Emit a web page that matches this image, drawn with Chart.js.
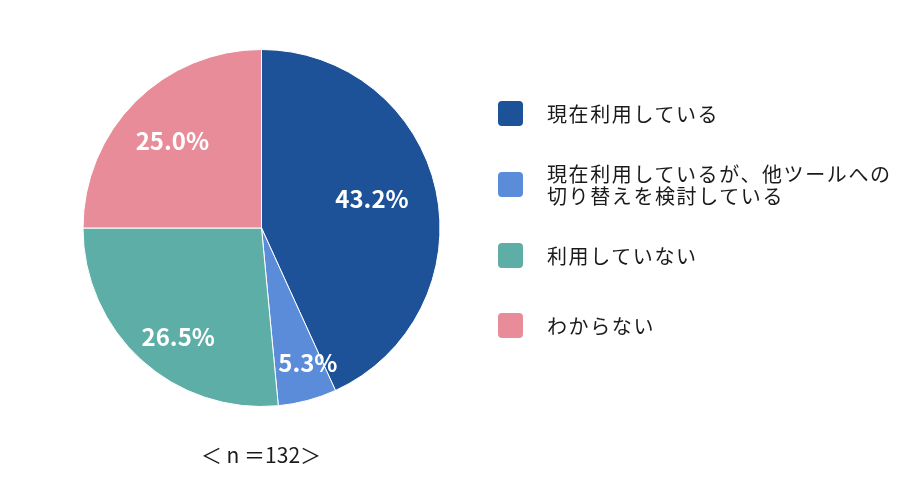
<!DOCTYPE html>
<html lang="ja">
<head>
<meta charset="utf-8">
<script src="https://cdn.jsdelivr.net/npm/chart.js@4.4.1/dist/chart.umd.min.js"></script>
<style>
    html, body { margin: 0; padding: 0; background: #fff; }
    body { width: 900px; height: 503px; position: relative; overflow: hidden;
        font-family: "Noto Sans CJK JP", "Noto Sans", sans-serif; color: #1a1a1a; }
    #wrap { position: absolute; left: 0; top: 0; width: 523px; height: 503px; }
    #legend { position: absolute; left: 498px; top: 0; margin: 0; padding: 0; list-style: none; }
    #legend li { position: absolute; left: 0; width: 400px; }
    #legend .box { position: absolute; left: 0; width: 25px; height: 25px; border-radius: 4px; }
    #legend .txt { position: absolute; left: 49px; font-size: 20px; line-height: 22px;
        letter-spacing: 1.6px; white-space: nowrap; }
    #count { position: absolute; left: 161px; width: 200px; top: 442px; text-align: center;
        font-size: 21px; line-height: 24px; }
</style>
</head>
<body>
<div id="wrap"><canvas id="chartUsage"></canvas></div>
<ul id="legend"></ul>
<div id="count"></div>

<script>
/* Datos */
const labels = [
    ['現在利用している'],
    ['現在利用しているが、他ツールへの', '切り替えを検討している'],
    ['利用していない'],
    ['わからない'],
];
const values = [43.2, 5.3, 26.5, 25.0];
const colors = ['#1D5299', '#5B8CDA', '#5DAEA7', '#E98C9A'];
const sampleSize = 132;

/* Posicion de etiquetas (fraccion del radio, desvio en grados) */
const labelRadius = [0.64, 0.8, 0.77, 0.7];
const labelShift = [-2.5, -4, -5, -0.5];

/* Etiquetas de porcentaje */
const pieLabels = {
    id: 'pieLabels',
    afterDatasetsDraw: (chart) => {
        const ctx = chart.ctx;
        const meta = chart.getDatasetMeta(0);
        ctx.save();
        ctx.fillStyle = '#fff';
        ctx.font = 'bold 24px "Noto Sans CJK JP", "Noto Sans", sans-serif';
        ctx.textAlign = 'center';
        ctx.textBaseline = 'middle';
        meta.data.forEach((arc, i) => {
            const p = arc.getProps(['x', 'y', 'startAngle', 'endAngle', 'outerRadius'], true);
            const mid = (p.startAngle + p.endAngle) / 2 + labelShift[i] * Math.PI / 180;
            const r = p.outerRadius * labelRadius[i];
            ctx.fillText(values[i].toFixed(1) + '%', p.x + Math.cos(mid) * r, p.y + Math.sin(mid) * r);
        });
        ctx.restore();
    },
};

const cu = document.getElementById('chartUsage');
const chartUsage = new Chart(cu, {
    type: 'pie',
    data: {
        labels: labels.map((l) => l.join('')),
        datasets: [{
            data: values,
            backgroundColor: colors,
            borderColor: '#fff',
            borderWidth: 1,
        }, ],
    },
    options: {
        responsive: true,
        maintainAspectRatio: false,
        animation: false,
        layout: {
            padding: { top: 49, bottom: 96, left: 0, right: 0 },
        },
        plugins: {
            legend: { display: false },
            tooltip: { enabled: false },
        },
    },
    plugins: [pieLabels],
});

/* Leyenda */
const legendTop = [101, 172, 243, 313];
const ul = document.getElementById('legend');
labels.forEach((l, i) => {
    const li = document.createElement('li');
    li.style.top = legendTop[i] + 'px';
    const box = document.createElement('span');
    box.className = 'box';
    box.style.background = colors[i];
    const txt = document.createElement('span');
    txt.className = 'txt';
    txt.innerHTML = l.join('<br>');
    txt.style.top = (12.5 - l.length * 11) + 'px';
    li.appendChild(box);
    li.appendChild(txt);
    ul.appendChild(li);
});

document.getElementById('count').textContent = '＜ n ＝' + sampleSize + '＞';
</script>
</body>
</html>
